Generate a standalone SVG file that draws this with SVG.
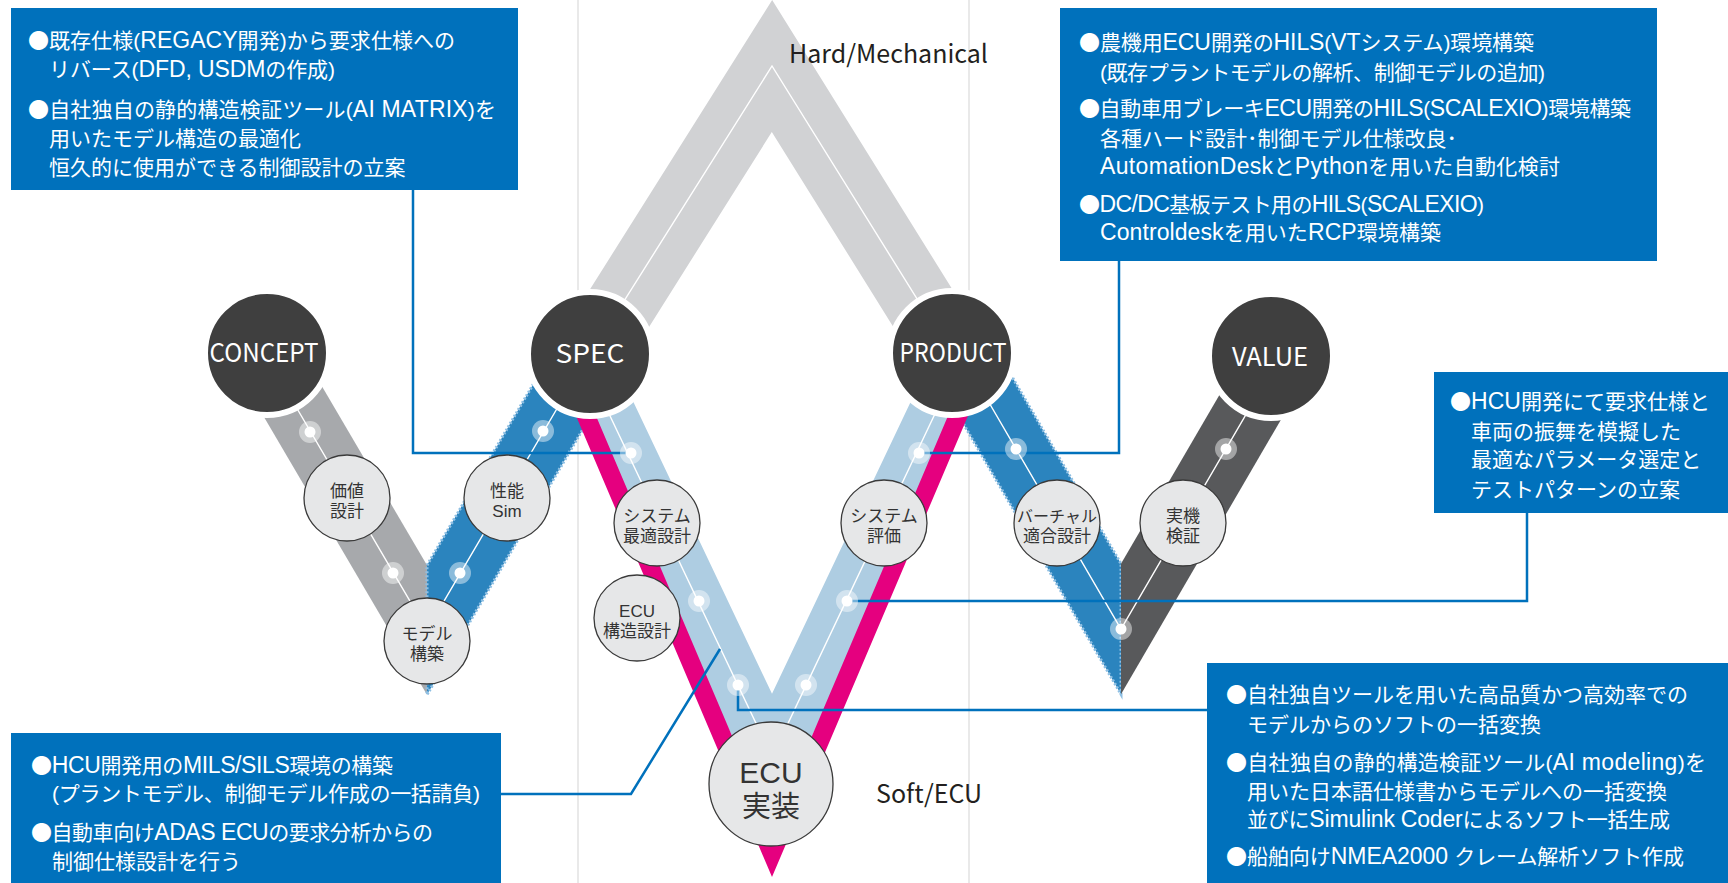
<svg xmlns="http://www.w3.org/2000/svg" width="1728" height="883" viewBox="0 0 1728 883">
<style>
.box{fill:#0071bc}
.bt{font-family:"Liberation Sans","Noto Sans CJK JP",sans-serif;font-size:21px;fill:#fff}
.lt{font-size:23px}
.bu{font-family:"Noto Sans CJK JP",sans-serif}
.conn{fill:none;stroke:#0071bc;stroke-width:2.5}
.vl{stroke:#e2e2e2;stroke-width:1.5}
.wl{fill:none;stroke:#fff;stroke-width:1.4}
.dots{fill:none;stroke:#8ebfe3;stroke-width:3;stroke-dasharray:2 2}
.big{fill:#3f3f3f;stroke:#fff;stroke-width:6}
.bigt{font-family:"Noto Sans CJK JP","Noto Sans",sans-serif;font-size:26px;fill:#fff;text-anchor:middle}
.sm{fill:#e6e7e8;stroke:#3a3a3a;stroke-width:1.3}
.smt{font-family:"Liberation Sans","Noto Sans CJK JP",sans-serif;font-size:17px;fill:#333;text-anchor:middle}
.lbl{font-family:"Noto Sans CJK JP","Noto Sans",sans-serif;font-size:25px;fill:#231f20}
</style>
<defs>
<g id="dot"><circle r="11" fill="#fff" fill-opacity="0.45"/><circle r="5.5" fill="#fff"/></g>
</defs>
<rect width="1728" height="883" fill="#fff"/>
<g id="guides">
<line class="vl" x1="578" y1="0" x2="578" y2="883"/>
<line class="vl" x1="969" y1="0" x2="969" y2="883"/>
</g>
<g id="bands">
<polyline points="590,355 772,66 952,355" fill="none" stroke="#d1d2d4" stroke-width="70" stroke-linejoin="miter"/>
<polyline class="wl" points="590,355 772,66 952,355"/>
<polygon points="226.4,353 427,694.7 427,565.3 302.4,353" fill="#a7a9ac"/>
<polygon points="627.6,353 427,694.7 427,565.3 551.6,353" fill="#2b84be"/>
<polyline class="dots" points="551.6,353 427,565.3 427,694.7 627.6,353"/>
<polyline class="wl" points="264.4,353 427,630 589.6,353"/>
<polygon points="923.3,355 1121,694.2 1121,563.8 999.3,355" fill="#2b84be"/>
<polyline class="dots" points="923.3,355 1121,694.2 1121,563.8 999.3,355"/>
<polygon points="1318.7,355 1121,694.2 1121,563.8 1242.7,355" fill="#58595b"/>
<polyline class="wl" points="961.3,355 1121,629 1280.7,355"/>
<polygon points="550.6,354 772,820.2 993.4,354 933.4,354 772,693.8 610.6,354" fill="#aecde2"/>
<polygon points="556.5,370 772,877 987.5,370 967.5,370 772,830 576.5,370" fill="#e5007f"/>
<polyline class="wl" points="580.6,354 772,757 963.4,354"/>
</g>
<g id="connectors">
<polyline class="conn" points="413,190 413,453 631,453"/>
<polyline class="conn" points="1119,261 1119,453 919,453"/>
<polyline class="conn" points="1527,513 1527,601 847,601"/>
<polyline class="conn" points="1207,710 738,710 738,685"/>
<polyline class="conn" points="501,794 631,794 720,649"/>
</g>
<g id="dots">
<use href="#dot" x="310" y="432"/>
<use href="#dot" x="393" y="573"/>
<use href="#dot" x="543" y="431"/>
<use href="#dot" x="460" y="573"/>
<use href="#dot" x="631" y="453"/>
<use href="#dot" x="699" y="601"/>
<use href="#dot" x="738" y="685"/>
<use href="#dot" x="919" y="453"/>
<use href="#dot" x="847" y="601"/>
<use href="#dot" x="806" y="685"/>
<use href="#dot" x="1016" y="449"/>
<use href="#dot" x="1121" y="629"/>
<use href="#dot" x="1226" y="449"/>
</g>
<g id="n-kachi"><circle class="sm" cx="347" cy="498" r="43"/><text class="smt" x="347" y="496.5">価値<tspan x="347" dy="20">設計</tspan></text></g>
<g id="n-seino"><circle class="sm" cx="507" cy="498" r="43"/><text class="smt" x="507" y="496.5">性能<tspan x="507" dy="20">Sim</tspan></text></g>
<g id="n-model"><circle class="sm" cx="427" cy="641" r="43"/><text class="smt" x="427" y="639.5">モデル<tspan x="427" dy="20">構築</tspan></text></g>
<g id="n-sysopt"><circle class="sm" cx="657" cy="523" r="43"/><text class="smt" x="657" y="521.5">システム<tspan x="657" dy="20">最適設計</tspan></text></g>
<g id="n-ecustruct"><circle class="sm" cx="637" cy="618" r="43"/><text class="smt" x="637" y="616.5">ECU<tspan x="637" dy="20">構造設計</tspan></text></g>
<g id="n-syseval"><circle class="sm" cx="884" cy="523" r="43"/><text class="smt" x="884" y="521.5">システム<tspan x="884" dy="20">評価</tspan></text></g>
<g id="n-virtual"><circle class="sm" cx="1057" cy="523" r="43"/><text class="smt" x="1057" y="521.5"><tspan style="font-size:16px">バーチャル</tspan><tspan x="1057" dy="20">適合設計</tspan></text></g>
<g id="n-jikki"><circle class="sm" cx="1183" cy="523" r="43"/><text class="smt" x="1183" y="521.5">実機<tspan x="1183" dy="20">検証</tspan></text></g>
<g id="n-ecu"><circle class="sm" cx="771" cy="784" r="62"/><text class="smt" x="771" y="783" style="font-size:30px">ECU<tspan x="771" dy="34" style="font-size:29px">実装</tspan></text></g>
<g id="n-concept"><circle class="big" cx="267" cy="353" r="62"/><text class="bigt" x="264" y="362" textLength="109" lengthAdjust="spacingAndGlyphs">CONCEPT</text></g>
<g id="n-spec"><circle class="big" cx="590" cy="354" r="62"/><text class="bigt" x="590" y="363" textLength="69" lengthAdjust="spacingAndGlyphs">SPEC</text></g>
<g id="n-product"><circle class="big" cx="952" cy="353" r="62"/><text class="bigt" x="953" y="362" textLength="107" lengthAdjust="spacingAndGlyphs">PRODUCT</text></g>
<g id="n-value"><circle class="big" cx="1271" cy="356" r="62"/><text class="bigt" x="1270" y="366" textLength="76" lengthAdjust="spacingAndGlyphs">VALUE</text></g>
<g id="labels">
<text class="lbl" x="789" y="63">Hard/Mechanical</text>
<text class="lbl" x="876" y="803">Soft/ECU</text>
</g>
<g id="box-topleft">
<rect class="box" x="11" y="8" width="507" height="182"/>
<text class="bt" x="28" y="48" textLength="427" lengthAdjust="spacing"><tspan class="bu">●</tspan>既存仕様(<tspan class="lt">REGACY</tspan>開発)から要求仕様への</text>
<text class="bt" x="49" y="77" textLength="286" lengthAdjust="spacing">リバース(<tspan class="lt">DFD, USDM</tspan>の作成)</text>
<text class="bt" x="28" y="117" textLength="468" lengthAdjust="spacing"><tspan class="bu">●</tspan>自社独自の静的構造検証ツール(<tspan class="lt">AI MATRIX</tspan>)を</text>
<text class="bt" x="49" y="146">用いたモデル構造の最適化</text>
<text class="bt" x="49" y="175">恒久的に使用ができる制御設計の立案</text>
</g>
<g id="box-topright">
<rect class="box" x="1060" y="8" width="597" height="253"/>
<text class="bt" x="1079" y="50" textLength="455" lengthAdjust="spacing"><tspan class="bu">●</tspan>農機用<tspan class="lt">ECU</tspan>開発の<tspan class="lt">HILS</tspan>(<tspan class="lt">VT</tspan>システム)環境構築</text>
<text class="bt" x="1100" y="80" textLength="445" lengthAdjust="spacing">(既存プラントモデルの解析、制御モデルの追加)</text>
<text class="bt" x="1079" y="116" textLength="552" lengthAdjust="spacing"><tspan class="bu">●</tspan>自動車用ブレーキ<tspan class="lt">ECU</tspan>開発の<tspan class="lt">HILS</tspan>(<tspan class="lt">SCALEXIO</tspan>)環境構築</text>
<text class="bt" x="1100" y="146">各種ハード設計･制御モデル仕様改良･</text>
<text class="bt" x="1100" y="174" textLength="460" lengthAdjust="spacing"><tspan class="lt">AutomationDesk</tspan>と<tspan class="lt">Python</tspan>を用いた自動化検討</text>
<text class="bt" x="1079" y="212" textLength="405" lengthAdjust="spacing"><tspan class="bu">●</tspan><tspan class="lt">DC/DC</tspan>基板テスト用の<tspan class="lt">HILS</tspan>(<tspan class="lt">SCALEXIO</tspan>)</text>
<text class="bt" x="1100" y="240" textLength="341" lengthAdjust="spacing"><tspan class="lt">Controldesk</tspan>を用いた<tspan class="lt">RCP</tspan>環境構築</text>
</g>
<g id="box-hcu">
<rect class="box" x="1434" y="372" width="294" height="141"/>
<text class="bt" x="1450" y="409" textLength="260" lengthAdjust="spacing"><tspan class="bu">●</tspan><tspan class="lt">HCU</tspan>開発にて要求仕様と</text>
<text class="bt" x="1471" y="439">車両の振舞を模擬した</text>
<text class="bt" x="1471" y="467">最適なパラメータ選定と</text>
<text class="bt" x="1471" y="497">テストパターンの立案</text>
</g>
<g id="box-bottomleft">
<rect class="box" x="11" y="733" width="490" height="150"/>
<text class="bt" x="31" y="773" textLength="362" lengthAdjust="spacing"><tspan class="bu">●</tspan><tspan class="lt">HCU</tspan>開発用の<tspan class="lt">MILS/SILS</tspan>環境の構築</text>
<text class="bt" x="52" y="801" textLength="428" lengthAdjust="spacing">(プラントモデル、制御モデル作成の一括請負)</text>
<text class="bt" x="31" y="840" textLength="402" lengthAdjust="spacing"><tspan class="bu">●</tspan>自動車向け<tspan class="lt">ADAS ECU</tspan>の要求分析からの</text>
<text class="bt" x="52" y="869">制御仕様設計を行う</text>
</g>
<g id="box-bottomright">
<rect class="box" x="1207" y="663" width="521" height="220"/>
<text class="bt" x="1226" y="702"><tspan class="bu">●</tspan>自社独自ツールを用いた高品質かつ高効率での</text>
<text class="bt" x="1247" y="732">モデルからのソフトの一括変換</text>
<text class="bt" x="1226" y="770" textLength="480" lengthAdjust="spacing"><tspan class="bu">●</tspan>自社独自の静的構造検証ツール(<tspan class="lt">AI modeling</tspan>)を</text>
<text class="bt" x="1247" y="799">用いた日本語仕様書からモデルへの一括変換</text>
<text class="bt" x="1247" y="827" textLength="423" lengthAdjust="spacing">並びに<tspan class="lt">Simulink Coder</tspan>によるソフト一括生成</text>
<text class="bt" x="1226" y="864" textLength="458" lengthAdjust="spacing"><tspan class="bu">●</tspan>船舶向け<tspan class="lt">NMEA2000 </tspan>クレーム解析ソフト作成</text>
</g>
</svg>
